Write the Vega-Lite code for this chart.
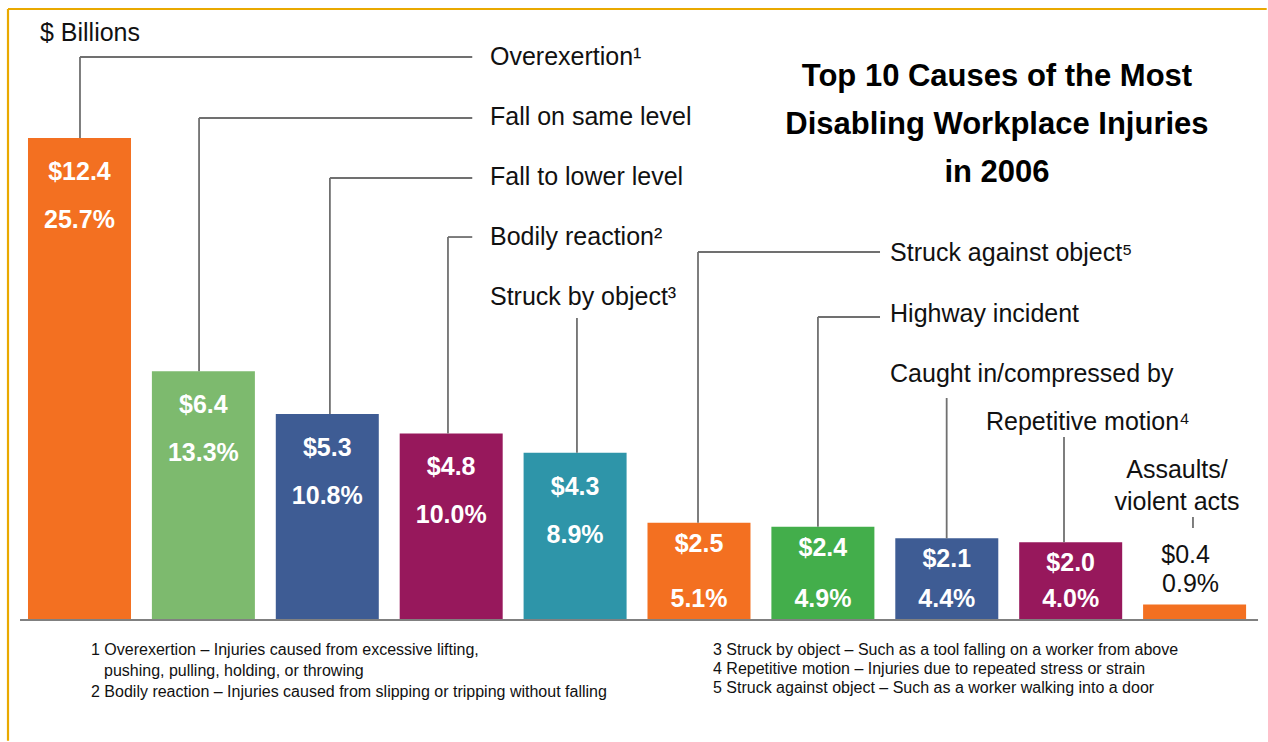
{
  "$schema": "https://vega.github.io/schema/vega-lite/v6.json",
  "width": 1268,
  "height": 742,
  "padding": 0,
  "autosize": {"type": "fit", "contains": "padding"},
  "background": "white",
  "config": {"view": {"stroke": null}, "font": "Liberation Sans", "text": {"font": "Liberation Sans"}},
  "layer": [
    {
      "data": {"values": [
        {"x": -0.577, "x2": 9.582, "y": 15.719, "y2": 15.719},
        {"x": -0.577, "x2": -0.577, "y": 15.719, "y2": -3.11}
      ]},
      "mark": {"type": "rule", "color": "#E9A900", "strokeWidth": 2.2},
      "encoding": {
        "x": {"field": "x", "type": "quantitative", "scale": {"domain": [-0.6416, 9.5925], "nice": false, "zero": false, "padding": 0}, "axis": null},
        "x2": {"field": "x2"},
        "y": {"field": "y", "type": "quantitative", "scale": {"domain": [-3.139, 15.951], "nice": false, "zero": false, "padding": 0}, "axis": null},
        "y2": {"field": "y2"}
      }
    },
    {
      "data": {"name": "bars", "values": [
        {"idx": 0, "cause": "Overexertion", "billions": 12.4, "amt": "$12.4", "pct": "25.7%"},
        {"idx": 1, "cause": "Fall on same level", "billions": 6.4, "amt": "$6.4", "pct": "13.3%"},
        {"idx": 2, "cause": "Fall to lower level", "billions": 5.3, "amt": "$5.3", "pct": "10.8%"},
        {"idx": 3, "cause": "Bodily reaction", "billions": 4.8, "amt": "$4.8", "pct": "10.0%"},
        {"idx": 4, "cause": "Struck by object", "billions": 4.3, "amt": "$4.3", "pct": "8.9%"},
        {"idx": 5, "cause": "Struck against object", "billions": 2.5, "amt": "$2.5", "pct": "5.1%"},
        {"idx": 6, "cause": "Highway incident", "billions": 2.4, "amt": "$2.4", "pct": "4.9%"},
        {"idx": 7, "cause": "Caught in/compressed by", "billions": 2.1, "amt": "$2.1", "pct": "4.4%"},
        {"idx": 8, "cause": "Repetitive motion", "billions": 2.0, "amt": "$2.0", "pct": "4.0%"},
        {"idx": 9, "cause": "Assaults/violent acts", "billions": 0.4, "amt": "$0.4", "pct": "0.9%"}
      ]},
      "layer": [
        {
          "mark": {"type": "bar", "width": 103},
          "encoding": {
            "x": {"field": "idx", "type": "quantitative", "scale": {"domain": [-0.6416, 9.5925], "nice": false, "zero": false, "padding": 0}, "axis": null},
            "y": {"field": "billions", "type": "quantitative", "scale": {"domain": [-3.139, 15.951], "nice": false, "zero": false, "padding": 0}, "axis": null},
            "y2": {"datum": 0},
            "color": {"field": "cause", "type": "nominal", "legend": null, "scale": {
              "domain": ["Overexertion", "Fall on same level", "Fall to lower level", "Bodily reaction", "Struck by object", "Struck against object", "Highway incident", "Caught in/compressed by", "Repetitive motion", "Assaults/violent acts"],
              "range": ["#F37021", "#7DBA6E", "#3E5C94", "#97185C", "#2E95A9", "#F37021", "#43AE4B", "#3E5C94", "#97185C", "#F37021"]}}
          }
        },
        {
          "transform": [{"filter": "datum.billions >= 3"}],
          "mark": {"type": "text", "color": "white", "fontWeight": "bold", "fontSize": 25, "baseline": "middle", "align": "center", "dy": 34},
          "encoding": {
            "x": {"field": "idx", "type": "quantitative"},
            "y": {"field": "billions", "type": "quantitative"},
            "text": {"field": "amt"}
          }
        },
        {
          "transform": [{"filter": "datum.billions >= 3"}],
          "mark": {"type": "text", "color": "white", "fontWeight": "bold", "fontSize": 25, "baseline": "middle", "align": "center", "dy": 82},
          "encoding": {
            "x": {"field": "idx", "type": "quantitative"},
            "y": {"field": "billions", "type": "quantitative"},
            "text": {"field": "pct"}
          }
        },
        {
          "transform": [{"filter": "datum.billions >= 1 && datum.billions < 3"}],
          "mark": {"type": "text", "color": "white", "fontWeight": "bold", "fontSize": 25, "baseline": "middle", "align": "center", "dy": 21},
          "encoding": {
            "x": {"field": "idx", "type": "quantitative"},
            "y": {"field": "billions", "type": "quantitative"},
            "text": {"field": "amt"}
          }
        },
        {
          "transform": [{"filter": "datum.billions >= 1 && datum.billions < 3"}],
          "mark": {"type": "text", "color": "white", "fontWeight": "bold", "fontSize": 25, "baseline": "middle", "align": "center", "dy": -21},
          "encoding": {
            "x": {"field": "idx", "type": "quantitative"},
            "y": {"datum": 0, "type": "quantitative"},
            "text": {"field": "pct"}
          }
        },
        {
          "transform": [{"filter": "datum.billions < 1"}],
          "mark": {"type": "text", "color": "#111111", "fontSize": 25, "baseline": "middle", "align": "center", "dy": -49, "dx": -9},
          "encoding": {
            "x": {"field": "idx", "type": "quantitative"},
            "y": {"field": "billions", "type": "quantitative"},
            "text": {"field": "amt"}
          }
        },
        {
          "transform": [{"filter": "datum.billions < 1"}],
          "mark": {"type": "text", "color": "#111111", "fontSize": 25, "baseline": "middle", "align": "center", "dy": -20, "dx": -4},
          "encoding": {
            "x": {"field": "idx", "type": "quantitative"},
            "y": {"field": "billions", "type": "quantitative"},
            "text": {"field": "pct"}
          }
        }
      ]
    },
    {
      "data": {"values": [{"x": -0.48, "x2": 9.512}]},
      "mark": {"type": "rule", "color": "#808080", "strokeWidth": 2.2},
      "encoding": {
        "x": {"field": "x", "type": "quantitative"},
        "x2": {"field": "x2"},
        "y": {"datum": 0, "type": "quantitative"}
      }
    },
    {
      "data": {"values": [
        {"x": 0.004, "x2": 0.004, "y": 12.4, "y2": 14.484},
        {"x": 0.004, "x2": 3.17, "y": 14.484, "y2": 14.484},
        {"x": 0.965, "x2": 0.965, "y": 6.4, "y2": 12.915},
        {"x": 0.965, "x2": 3.17, "y": 12.915, "y2": 12.915},
        {"x": 2.021, "x2": 2.021, "y": 5.3, "y2": 11.371},
        {"x": 2.021, "x2": 3.17, "y": 11.371, "y2": 11.371},
        {"x": 2.974, "x2": 2.974, "y": 4.8, "y2": 9.853},
        {"x": 2.974, "x2": 3.17, "y": 9.853, "y2": 9.853},
        {"x": 4.015, "x2": 4.015, "y": 4.3, "y2": 7.77},
        {"x": 4.992, "x2": 4.992, "y": 2.5, "y2": 9.468},
        {"x": 4.992, "x2": 6.461, "y": 9.468, "y2": 9.468},
        {"x": 5.96, "x2": 5.96, "y": 2.4, "y2": 7.795},
        {"x": 5.96, "x2": 6.461, "y": 7.795, "y2": 7.795},
        {"x": 6.999, "x2": 6.999, "y": 2.1, "y2": 5.711},
        {"x": 7.946, "x2": 7.946, "y": 2.0, "y2": 4.708},
        {"x": 8.987, "x2": 8.987, "y": 2.367, "y2": 2.65}
      ]},
      "mark": {"type": "rule", "color": "#707070", "strokeWidth": 1.8},
      "encoding": {
        "x": {"field": "x", "type": "quantitative"},
        "x2": {"field": "x2"},
        "y": {"field": "y", "type": "quantitative"},
        "y2": {"field": "y2"}
      }
    },
    {
      "data": {"values": [
        {"label": "Overexertion¹", "x": 3.313, "y": 14.484},
        {"label": "Fall on same level", "x": 3.313, "y": 12.941},
        {"label": "Fall to lower level", "x": 3.313, "y": 11.397},
        {"label": "Bodily reaction²", "x": 3.313, "y": 9.853},
        {"label": "Struck by object³", "x": 3.313, "y": 8.31},
        {"label": "Struck against object⁵", "x": 6.542, "y": 9.442},
        {"label": "Highway incident", "x": 6.542, "y": 7.872},
        {"label": "Caught in/compressed by", "x": 6.542, "y": 6.329},
        {"label": "Repetitive motion⁴", "x": 7.316, "y": 5.094},
        {"label": "$ Billions", "x": -0.319, "y": 15.102}
      ]},
      "mark": {"type": "text", "align": "left", "baseline": "middle", "fontSize": 25, "color": "#111111"},
      "encoding": {
        "x": {"field": "x", "type": "quantitative"},
        "y": {"field": "y", "type": "quantitative"},
        "text": {"field": "label"}
      }
    },
    {
      "data": {"values": [
        {"label": "Assaults/", "x": 8.858, "y": 3.859},
        {"label": "violent acts", "x": 8.858, "y": 3.036}
      ]},
      "mark": {"type": "text", "align": "center", "baseline": "middle", "fontSize": 25, "color": "#111111"},
      "encoding": {
        "x": {"field": "x", "type": "quantitative"},
        "y": {"field": "y", "type": "quantitative"},
        "text": {"field": "label"}
      }
    },
    {
      "data": {"values": [
        {"line": "Top 10 Causes of the Most", "x": 7.405, "y": 13.97},
        {"line": "Disabling Workplace Injuries", "x": 7.405, "y": 12.735},
        {"line": "in 2006", "x": 7.405, "y": 11.5}
      ]},
      "mark": {"type": "text", "align": "center", "baseline": "middle", "fontSize": 31, "fontWeight": "bold", "color": "#000000"},
      "encoding": {
        "x": {"field": "x", "type": "quantitative"},
        "y": {"field": "y", "type": "quantitative"},
        "text": {"field": "line"}
      }
    },
    {
      "data": {"values": [
        {"note": "1 Overexertion – Injuries caused from excessive lifting,", "x": 0.093, "y": -0.772},
        {"note": "pushing, pulling, holding, or throwing", "x": 0.198, "y": -1.312},
        {"note": "2 Bodily reaction – Injuries caused from slipping or tripping without falling", "x": 0.093, "y": -1.852},
        {"note": "3 Struck by object – Such as a tool falling on a worker from above", "x": 5.113, "y": -0.772},
        {"note": "4 Repetitive motion – Injuries due to repeated stress or strain", "x": 5.113, "y": -1.261},
        {"note": "5 Struck against object – Such as a worker walking into a door", "x": 5.113, "y": -1.749}
      ]},
      "mark": {"type": "text", "align": "left", "baseline": "middle", "fontSize": 16, "color": "#111111"},
      "encoding": {
        "x": {"field": "x", "type": "quantitative"},
        "y": {"field": "y", "type": "quantitative"},
        "text": {"field": "note"}
      }
    }
  ]
}
